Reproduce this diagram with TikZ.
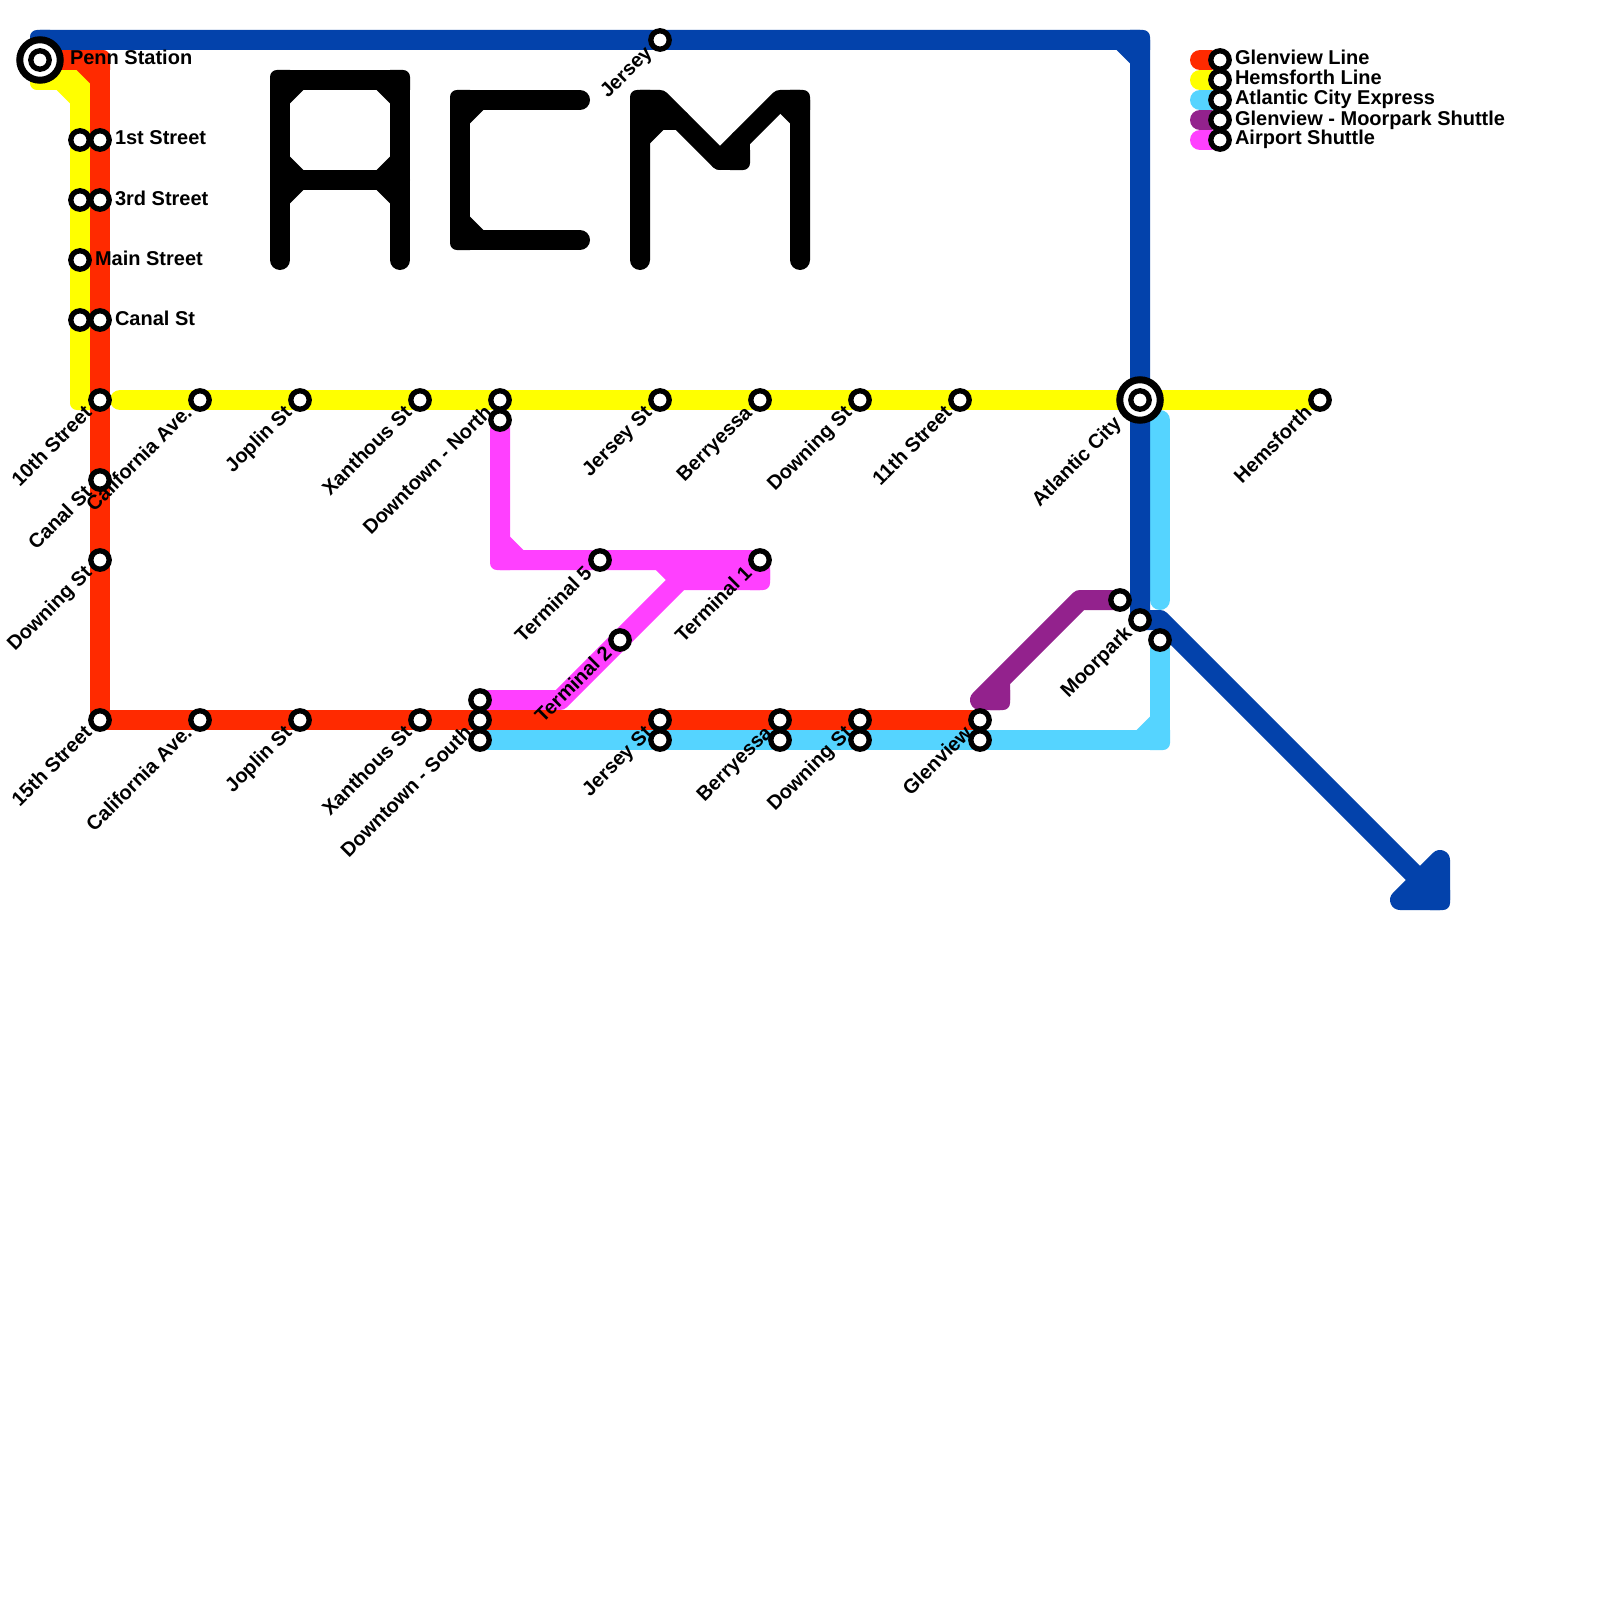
\documentclass[tikz,border=0pt]{standalone}
\usepackage{fontspec}
\setmainfont{Liberation Sans}
\usetikzlibrary{backgrounds}
\definecolor{lred}{HTML}{FF2A00}
\definecolor{lyel}{HTML}{FFFF00}
\definecolor{lcya}{HTML}{55D4FF}
\definecolor{lpur}{HTML}{93228D}
\definecolor{lmag}{HTML}{FF40FF}
\definecolor{lblu}{HTML}{0342AB}
\tikzset{
  metro/.style={line width=20pt,line cap=round,line join=round},
  stn/.style={circle,draw=black,fill=white,line width=5.3pt,minimum size=18.4pt,inner sep=0pt,outer sep=0pt},
  hub/.style={circle,draw=black,fill=white,line width=7pt,minimum size=40.5pt,inner sep=0pt,outer sep=0pt},
  txt/.style={inner sep=0pt,outer sep=0pt,text=black,font=\fontsize{20}{24}\selectfont\bfseries},
  rlab/.style={txt,anchor=base west},
  dlab/.style={txt,anchor=base east,rotate=45},
}
% stations: plain, with a label to the right, with a label on the slant
\newcommand{\stnp}[3]{\node[stn] (#1) at (#2,#3) {};}
\newcommand{\stnr}[4]{\node[stn] (#1) at (#2,#3) {};\node[rlab] (#1-lab) at ([shift={(15,5)}]#1.center) {#4};}
\newcommand{\stnd}[4]{\node[stn] (#1) at (#2,#3) {};\node[dlab] (#1-lab) at ([shift={(-7.07,14.14)}]#1.center) {#4};}
% corner details: outer rounding, inner chamfer
\newcommand{\rnd}[4]{\def\dX{#3}\def\dY{#4}\fill[#1]
  ([shift={(-10*\dX,10*\dY)}]#2) -- ([shift={(-10*\dX,-3*\dY)}]#2)
  .. controls ([shift={(-10*\dX,-6.9*\dY)}]#2) and ([shift={(-6.9*\dX,-10*\dY)}]#2) .. ([shift={(-3*\dX,-10*\dY)}]#2)
  -- ([shift={(10*\dX,-10*\dY)}]#2) -- ([shift={(10*\dX,10*\dY)}]#2) -- cycle;}
\newcommand{\chm}[4]{\def\dX{#3}\def\dY{#4}\fill[#1]
  ([shift={(10*\dX,10*\dY)}]#2) -- ([shift={(23.3*\dX,10*\dY)}]#2) -- ([shift={(10*\dX,23.3*\dY)}]#2) -- cycle;}
\newcommand{\crn}[4]{\rnd{#1}{#2}{#3}{#4}\chm{#1}{#2}{#3}{#4}}
\begin{document}
\begin{tikzpicture}[x=1pt,y=-1pt]
\useasboundingbox (0,0) rectangle (1600,1600);
% hubs
\node[hub] (penn) at (40,60) {};
\node[stn] (penn-c) at (40,60) {};
\node[rlab] (penn-lab) at ([shift={(30,5)}]penn.center) {Penn Station};
\node[hub] (atl) at (1140,400) {};
\node[stn] (atl-c) at (1140,400) {};
\node[dlab] (atl-lab) at ([shift={(-17.7,24.7)}]atl.center) {Atlantic City};
% left column
\stnp{y1}{80}{140}\stnr{r1}{100}{140}{1st Street}
\stnp{y3}{80}{200}\stnr{r3}{100}{200}{3rd Street}
\stnr{ym}{80}{260}{Main Street}
\stnp{yc}{80}{320}\stnr{rc}{100}{320}{Canal St}
% yellow row
\stnd{r10}{100}{400}{10th Street}
\stnd{ycal}{200}{400}{California Ave.}
\stnd{yjop}{300}{400}{Joplin St}
\stnd{yxan}{420}{400}{Xanthous St}
\stnd{ydtn}{500}{400}{Downtown - North}
\stnp{mdtn}{500}{420}
\stnd{yjer}{660}{400}{Jersey St}
\stnd{yber}{760}{400}{Berryessa}
\stnd{ydow}{860}{400}{Downing St}
\stnd{y11}{960}{400}{11th Street}
\stnd{yhem}{1320}{400}{Hemsforth}
\stnd{bjer}{660}{40}{Jersey}
% red column and row
\stnd{rcan}{100}{480}{Canal St}
\stnd{rdow}{100}{560}{Downing St}
\stnd{r15}{100}{720}{15th Street}
\stnd{rcal}{200}{720}{California Ave.}
\stnd{rjop}{300}{720}{Joplin St}
\stnd{rxan}{420}{720}{Xanthous St}
\stnp{mdts}{480}{700}
\stnd{rdts}{480}{720}{Downtown - South}
\stnp{cdts}{480}{740}
\stnd{rjer}{660}{720}{Jersey St}
\stnp{cjer}{660}{740}
\stnd{rber}{780}{720}{Berryessa}
\stnp{cber}{780}{740}
\stnd{rdwn}{860}{720}{Downing St}
\stnp{cdwn}{860}{740}
\stnd{rgle}{980}{720}{Glenview}
\stnp{cgle}{980}{740}
% airport shuttle
\stnd{mt5}{600}{560}{Terminal 5}
\stnd{mt1}{760}{560}{Terminal 1}
\stnd{mt2}{620}{640}{Terminal 2}
% moorpark
\stnp{pmoo}{1120}{600}
\stnd{bmoo}{1140}{620}{Moorpark}
\stnp{cmoo}{1160}{640}
% legend
\stnr{k1}{1220}{60}{Glenview Line}
\stnr{k2}{1220}{80}{Hemsforth Line}
\stnr{k3}{1220}{100}{Atlantic City Express}
\stnr{k4}{1220}{120}{Glenview - Moorpark Shuttle}
\stnr{k5}{1220}{140}{Airport Shuttle}
% waypoints
\coordinate (k1s) at (1200,60);\coordinate (k2s) at (1200,80);\coordinate (k3s) at (1200,100);
\coordinate (k4s) at (1200,120);\coordinate (k5s) at (1200,140);
\coordinate (ya) at (40,80);\coordinate (yb) at (80,80);\coordinate (yc2) at (80,400);\coordinate (yd) at (100,400);\coordinate (ye) at (120,400);
\coordinate (ra) at (100,60);
\coordinate (ca) at (1160,740);\coordinate (cb) at (1160,420);\coordinate (cc) at (1160,600);
\coordinate (pa) at (1080,600);\coordinate (pb) at (980,700);\coordinate (pc) at (1000,700);\coordinate (pd) at (1000,680);
\coordinate (ma) at (500,560);\coordinate (mb) at (760,580);\coordinate (mc) at (680,580);\coordinate (md) at (560,700);\coordinate (me) at (660,560);
\coordinate (ba) at (40,40);\coordinate (bb) at (1140,40);\coordinate (bc) at (1140,620);\coordinate (bd) at (1160,620);\coordinate (be) at (1420,880);
\coordinate (ta) at (1440,860);\coordinate (tb) at (1440,900);\coordinate (tc) at (1400,900);
% letters
\coordinate (a1) at (280,260);\coordinate (a2) at (280,80);\coordinate (a3) at (400,80);\coordinate (a4) at (400,260);\coordinate (a5) at (280,180);\coordinate (a6) at (400,180);
\coordinate (c1) at (580,100);\coordinate (c2) at (460,100);\coordinate (c3) at (460,240);\coordinate (c4) at (580,240);
\coordinate (m1) at (640,260);\coordinate (m2) at (640,100);\coordinate (m3) at (660,100);\coordinate (m4) at (720,160);\coordinate (m5) at (780,100);\coordinate (m6) at (800,100);\coordinate (m7) at (800,260);
\coordinate (m8) at (740,160);\coordinate (m9) at (740,140);\coordinate (m10) at (640,120);\coordinate (m11) at (680,120);
\begin{scope}[on background layer]
\fill[white] (0,0) rectangle (1600,1600);
% letters
\draw[metro,black] (a1) -- (a2) -- (a3) -- (a4);
\draw[metro,black] (a5) -- (a6);
\crn{black}{a2}{1}{1}\crn{black}{a3}{-1}{1}
\chm{black}{a5}{1}{-1}\chm{black}{a5}{1}{1}\chm{black}{a6}{-1}{-1}\chm{black}{a6}{-1}{1}
\draw[metro,black] (c1) -- (c2) -- (c3) -- (c4);
\crn{black}{c2}{1}{1}\crn{black}{c3}{1}{-1}
\draw[metro,black] (m1) -- (m2) -- (m3) -- (m4) -- (m5) -- (m6) -- (m7);
\draw[metro,black] (m4) -- (m8) -- (m9);
\draw[metro,black] (m10) -- (m11);
\crn{black}{m2}{1}{1}\crn{black}{m6}{-1}{1}\chm{black}{m10}{1}{1}\rnd{black}{m8}{-1}{-1}
% yellow
\draw[metro,lyel] (penn.center) -- (ya) -- (yb) -- (yc2) -- (yd);
\rnd{lyel}{ya}{1}{-1}\crn{lyel}{yb}{-1}{1}\rnd{lyel}{yc2}{1}{-1}
\draw[metro,lyel] (ye) -- (yhem.center);
% light blue
\draw[metro,lcya] (cdts.center) -- (ca) -- (cmoo.center);
\crn{lcya}{ca}{-1}{-1}
\draw[metro,lcya] (cb) -- (cc);
% purple
\draw[metro,lpur] (pmoo.center) -- (pa) -- (pb) -- (pc) -- (pd);
\rnd{lpur}{pc}{-1}{-1}
% magenta
\draw[metro,lmag] (mdtn.center) -- (ma) -- (mt1.center) -- (mb) -- (mc) -- (md) -- (mdts.center);
\draw[metro,lmag] (me) -- (mc);
\crn{lmag}{ma}{1}{-1}\rnd{lmag}{mb}{-1}{-1}
% red
\draw[metro,lred] (penn.center) -- (ra) -- (r15.center) -- (rgle.center);
\crn{lred}{ra}{-1}{1}\crn{lred}{r15}{1}{-1}
% blue
\draw[metro,lblu] (penn.center) -- (ba) -- (bb) -- (bc) -- (bd) -- (be);
\rnd{lblu}{ba}{1}{1}\crn{lblu}{bb}{-1}{1}
\draw[metro,lblu,fill=lblu] (ta) -- (tb) -- (tc) -- cycle;
\rnd{lblu}{tb}{-1}{-1}
% legend swatches
\draw[metro,lred] (k1s) -- (k1);
\draw[metro,lyel] (k2s) -- (k2);
\draw[metro,lcya] (k3s) -- (k3);
\draw[metro,lpur] (k4s) -- (k4);
\draw[metro,lmag] (k5s) -- (k5);
\end{scope}
\end{tikzpicture}
\end{document}
